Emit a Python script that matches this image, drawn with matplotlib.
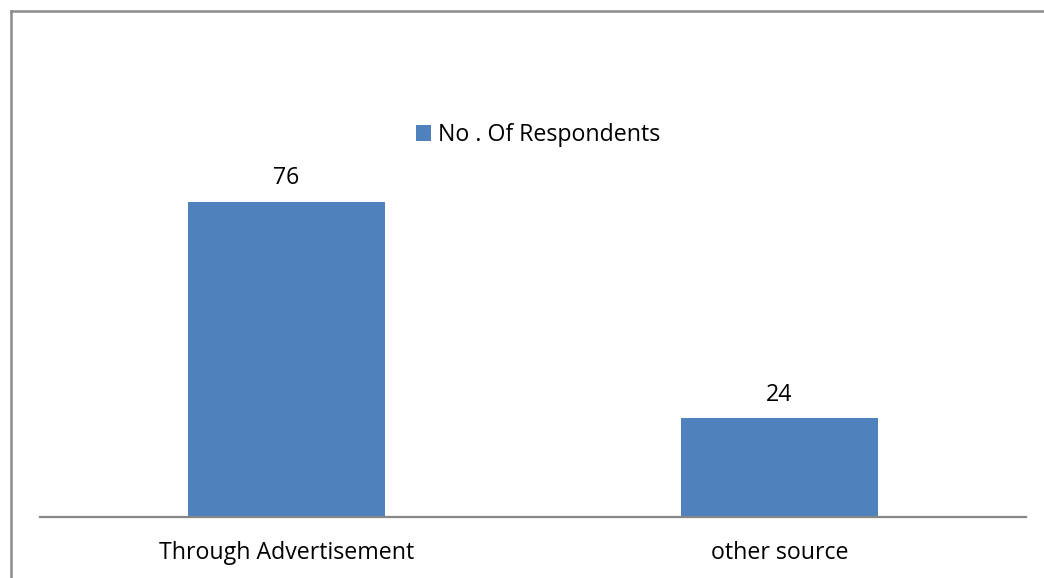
import matplotlib.pyplot as plt
from matplotlib.lines import Line2D

categories = ['Through Advertisement', 'other source']
respondents = [76, 24]
series_name = 'No . Of Respondents'

plt.rcParams['font.family'] = ['Open Sans', 'DejaVu Sans']
fs = 16.7

fig = plt.figure(figsize=(10.44, 5.78), dpi=100)
ax = fig.add_axes([0.0383, 0.1047, 0.9444, 0.5753])

bars = ax.bar(range(len(categories)), respondents, width=0.4,
              color='#4F81BD', label=series_name)
ax.set_xlim(-0.5, len(categories) - 0.5)
ax.set_ylim(0, 80)

for b, v in zip(bars, respondents):
    ax.annotate(str(v), (b.get_x() + b.get_width() / 2, v),
                xytext=(0, 8), textcoords='offset points',
                ha='center', va='bottom', fontsize=fs, color='black')

ax.set_xticks(range(len(categories)))
ax.set_xticklabels(categories, fontsize=fs)
ax.tick_params(axis='x', length=0, pad=17)
ax.set_yticks([])
for s in ['top', 'right', 'left']:
    ax.spines[s].set_visible(False)
ax.spines['bottom'].set_color('#868686')
ax.spines['bottom'].set_linewidth(1.6)

fig.legend(loc='center', bbox_to_anchor=(538 / 1044, 1 - 135 / 578),
           frameon=False, fontsize=fs, handlelength=0.68, handleheight=0.68,
           handletextpad=0.3)

# chart frame: only the left and top edges fall inside the image
fig.add_artist(Line2D([11 / 1044, 11 / 1044], [0, 1 - 11 / 578],
                      transform=fig.transFigure, color='#8c8c8c', lw=1.8))
fig.add_artist(Line2D([11 / 1044, 1], [1 - 11 / 578, 1 - 11 / 578],
                      transform=fig.transFigure, color='#8c8c8c', lw=1.8))

fig.savefig('out.png', dpi=100)
